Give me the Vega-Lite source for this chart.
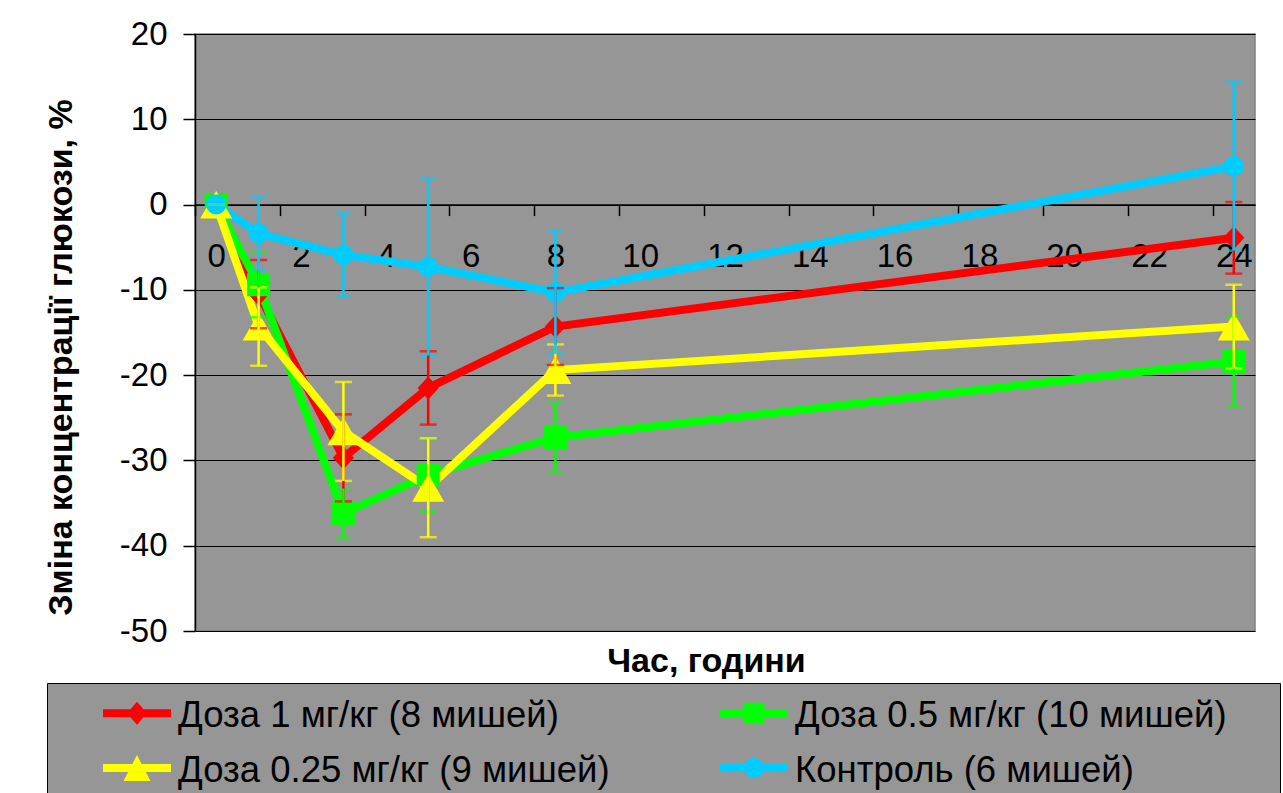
{
  "$schema": "https://vega.github.io/schema/vega-lite/v6.json",
  "width": 1060,
  "height": 597,
  "autosize": {"type": "none"},
  "padding": {"left": 195, "top": 34, "right": 28, "bottom": 162},
  "background": "#ffffff",
  "config": {
    "font": "Liberation Sans",
    "view": {"fill": "#969696", "stroke": "#808080", "strokeWidth": 1.5}
  },
  "data": {
    "values": [
      {"s": "Доза 1 мг/кг (8 мишей)", "t": 0, "m": 0, "e": 0},
      {"s": "Доза 1 мг/кг (8 мишей)", "t": 1, "m": -10.5, "e": 4.0},
      {"s": "Доза 1 мг/кг (8 мишей)", "t": 3, "m": -29.7, "e": 5.1},
      {"s": "Доза 1 мг/кг (8 мишей)", "t": 5, "m": -21.5, "e": 4.3},
      {"s": "Доза 1 мг/кг (8 мишей)", "t": 8, "m": -14.3, "e": 4.5},
      {"s": "Доза 1 мг/кг (8 мишей)", "t": 24, "m": -3.9, "e": 4.2},
      {"s": "Доза 0.5 мг/кг (10 мишей)", "t": 0, "m": 0, "e": 0},
      {"s": "Доза 0.5 мг/кг (10 мишей)", "t": 1, "m": -9.4, "e": 3.8},
      {"s": "Доза 0.5 мг/кг (10 мишей)", "t": 3, "m": -36.2, "e": 2.9},
      {"s": "Доза 0.5 мг/кг (10 мишей)", "t": 5, "m": -31.7, "e": 4.3},
      {"s": "Доза 0.5 мг/кг (10 мишей)", "t": 8, "m": -27.3, "e": 4.1},
      {"s": "Доза 0.5 мг/кг (10 мишей)", "t": 24, "m": -18.4, "e": 5.3},
      {"s": "Доза 0.25 мг/кг (9 мишей)", "t": 0, "m": 0, "e": 0},
      {"s": "Доза 0.25 мг/кг (9 мишей)", "t": 1, "m": -14.3, "e": 4.6},
      {"s": "Доза 0.25 мг/кг (9 мишей)", "t": 3, "m": -26.6, "e": 5.8},
      {"s": "Доза 0.25 мг/кг (9 мишей)", "t": 5, "m": -33.2, "e": 5.8},
      {"s": "Доза 0.25 мг/кг (9 мишей)", "t": 8, "m": -19.4, "e": 3.0},
      {"s": "Доза 0.25 мг/кг (9 мишей)", "t": 24, "m": -14.3, "e": 4.9},
      {"s": "Контроль (6 мишей)", "t": 0, "m": 0, "e": 0},
      {"s": "Контроль (6 мишей)", "t": 1, "m": -3.4, "e": 4.3},
      {"s": "Контроль (6 мишей)", "t": 3, "m": -5.9, "e": 4.9},
      {"s": "Контроль (6 мишей)", "t": 5, "m": -7.3, "e": 10.4},
      {"s": "Контроль (6 мишей)", "t": 8, "m": -10.3, "e": 7.2},
      {"s": "Контроль (6 мишей)", "t": 24, "m": 4.5, "e": 9.9}
    ]
  },
  "resolve": {"axis": {"x": "independent"}},
  "layer": [
    {
      "mark": {"type": "line", "strokeWidth": 8},
      "encoding": {
        "x": {
          "field": "t", "type": "quantitative",
          "scale": {"domain": [-0.5, 24.5], "nice": false, "zero": false},
          "axis": {
            "orient": "bottom", "offset": -426.4, "title": null,
            "values": [0, 2, 4, 6, 8, 10, 12, 14, 16, 18, 20, 22, 24],
            "labelFont": "Liberation Sans", "labelFontSize": 33, "labelColor": "#000000",
            "labelPadding": 25, "labelOffset": 21.2, "tickOffset": -21.2,
            "tickSize": 11, "tickColor": "#000000", "tickWidth": 1.5,
            "domainColor": "#000000", "domainWidth": 1.5, "grid": false,
            "labelFlush": false, "labelOverlap": false, "zindex": 0
          }
        },
        "y": {
          "field": "m", "type": "quantitative",
          "title": "Зміна концентрації глюкози, %",
          "scale": {"domain": [-50, 20], "nice": false, "zero": false},
          "axis": {
            "title": "Зміна концентрації глюкози, %",
            "titleFont": "Liberation Sans", "titleFontSize": 34, "titleFontWeight": "bold",
            "titleColor": "#000000", "titlePadding": 41, "titleY": 323,
            "values": [-50, -40, -30, -20, -10, 0, 10, 20],
            "labelExpr": "datum.value < 0 ? '-' + abs(datum.value) : '' + datum.value",
            "labelFont": "Liberation Sans", "labelFontSize": 33, "labelColor": "#000000",
            "labelPadding": 16, "tickSize": 12, "tickColor": "#000000", "tickWidth": 1.5,
            "domainColor": "#000000", "domainWidth": 1.5,
            "grid": true, "gridColor": "#000000", "gridWidth": 1.2,
            "labelFlush": false, "zindex": 0
          }
        },
        "stroke": {
          "field": "s", "type": "nominal",
          "scale": {
            "domain": ["Доза 1 мг/кг (8 мишей)", "Доза 0.5 мг/кг (10 мишей)", "Доза 0.25 мг/кг (9 мишей)", "Контроль (6 мишей)"],
            "range": ["#ff0000", "#00ff00", "#ffff00", "#00ccff"]
          },
          "legend": {
            "orient": "none", "legendX": -148, "legendY": 649,
            "columns": 2, "direction": "horizontal", "title": null,
            "fillColor": "#969696", "strokeColor": "#000000", "padding": 10,
            "labelFont": "Liberation Sans", "labelFontSize": 36.5, "labelColor": "#000000",
            "labelOffset": 18, "symbolOffset": 57, "labelLimit": 1000,
            "rowPadding": 13, "columnPadding": 64,
            "symbolSize": 2116, "symbolStrokeWidth": 0,
            "encode": {
              "symbols": {
                "update": {
                  "shape": {"signal": "datum.value === 'Доза 1 мг/кг (8 мишей)' ? 'M-1.478,-0.304H1.478V0.043H-1.478ZM0,-0.63L0.435,-0.13L0,0.37L-0.435,-0.13Z' : datum.value === 'Доза 0.5 мг/кг (10 мишей)' ? 'M22.4,-0.13L22.4,-0.13M-1.478,-0.304H1.478V0.043H-1.478ZM-0.457,-0.587H0.457V0.327H-0.457Z' : datum.value === 'Доза 0.25 мг/кг (9 мишей)' ? 'M-1.478,-0.304H1.478V0.043H-1.478ZM0,-0.695L0.587,0.435L-0.587,0.435Z' : 'M22.4,-0.13L22.4,-0.13M-1.478,-0.304H1.478V0.043H-1.478ZM0.435,-0.13A0.435,0.435,0,1,1,-0.435,-0.13A0.435,0.435,0,1,1,0.435,-0.13Z'"},
                  "fill": {"signal": "scale('stroke', datum.value)"},
                  "opacity": {"value": 1},
                  "strokeWidth": {"value": 0},
                  "size": {"value": 2116}
                }
              }
            }
          }
        }
      }
    },
    {
      "mark": {"type": "point", "filled": true, "size": 1024, "opacity": 1, "strokeWidth": 0},
      "encoding": {
        "x": {
          "field": "t", "type": "quantitative",
          "scale": {"domain": [-0.5, 24.5], "nice": false, "zero": false},
          "axis": {
            "orient": "bottom", "title": "Час, години",
            "titleFont": "Liberation Sans", "titleFontSize": 34, "titleFontWeight": "bold",
            "titleColor": "#000000", "titlePadding": 13, "titleX": 511,
            "labels": false, "ticks": false, "domain": false, "grid": false
          }
        },
        "y": {
          "field": "m", "type": "quantitative",
          "title": "Зміна концентрації глюкози, %",
          "scale": {"domain": [-50, 20], "nice": false, "zero": false}
        },
        "shape": {
          "field": "s", "type": "nominal",
          "scale": {
            "range": [
              "M0,-0.87L1,0.87L-1,0.87Z",
              "M-0.72,-0.72H0.72V0.72H-0.72Z",
              "M0,-0.72L0.66,0L0,0.72L-0.66,0Z",
              "M0.625,0A0.625,0.625,0,1,1,-0.625,0A0.625,0.625,0,1,1,0.625,0Z"
            ]
          },
          "legend": null
        },
        "color": {
          "field": "s", "type": "nominal",
          "scale": {"range": ["#ffff00", "#00ff00", "#ff0000", "#00ccff"]},
          "legend": null
        }
      }
    },
    {
      "mark": {"type": "errorbar", "ticks": {"thickness": 2.5}, "rule": {"strokeWidth": 2.5}, "size": 17, "thickness": 2.5},
      "encoding": {
        "x": {
          "field": "t", "type": "quantitative",
          "scale": {"domain": [-0.5, 24.5], "nice": false, "zero": false},
          "axis": null
        },
        "y": {
          "field": "m", "type": "quantitative",
          "title": "Зміна концентрації глюкози, %",
          "scale": {"domain": [-50, 20], "nice": false, "zero": false}
        },
        "yError": {"field": "e"},
        "color": {"field": "s", "type": "nominal", "legend": null}
      }
    }
  ]
}
